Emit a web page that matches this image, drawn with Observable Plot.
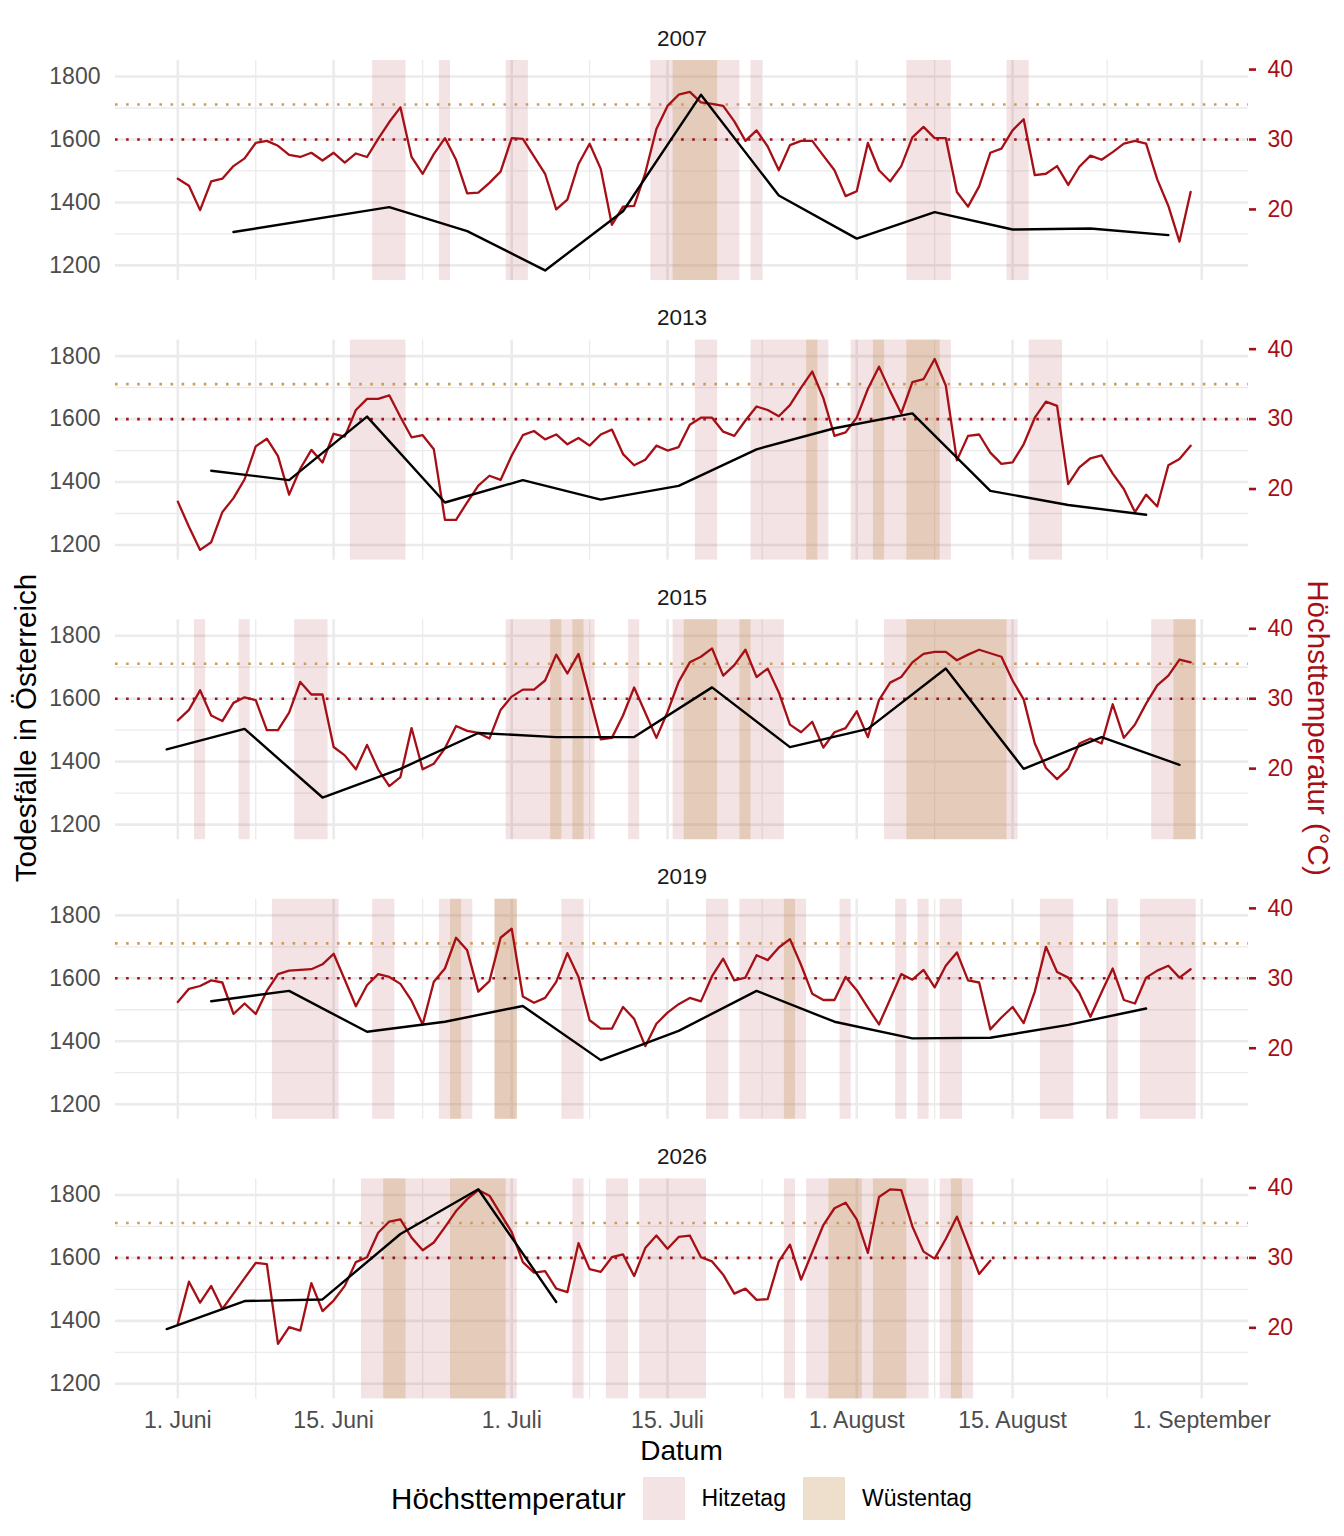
<!DOCTYPE html>
<html>
<head>
<meta charset="utf-8">
<script src="https://cdn.jsdelivr.net/npm/d3@7"></script>
<script src="https://cdn.jsdelivr.net/npm/@observablehq/plot@0.6"></script>
<style>
  body { margin: 0; background: #fff; font-family: "Liberation Sans", Arial, sans-serif; }
  #wrap { position: relative; width: 1344px; height: 1536px; background: #fff; }
  .abs { position: absolute; white-space: nowrap; line-height: 1; }
  #xtitle { left: 115px; width: 1133px; top: 1437px; text-align: center; font-size: 28px; color: #000; }
  #ylt { left: 26px; top: 728px; font-size: 29.5px; color: #000; transform: translate(-50%, -50%) rotate(-90deg); }
  #yrt { left: 1318px; top: 728px; font-size: 29.5px; color: #a50f15; transform: translate(-50%, -50%) rotate(90deg); }
  #legend { left: 115px; width: 1133px; top: 1477px; height: 43px; display: flex; justify-content: center; align-items: center; }
  #legend .ttl { font-size: 29.5px; margin-right: 17px; }
  #legend .sw { width: 42px; height: 43px; margin-right: 17px; }
  #legend .lab { font-size: 23px; margin-right: 17px; color: #000; }
  #legend .lab:last-child { margin-right: 0; }
</style>
</head>
<body>
<div id="wrap"></div>
<script>
// ---------- data ----------
const years = [2007, 2013, 2015, 2019, 2026];

// daily maximum temperature (°C), index 0 = 1 June
const temp2007 = [24.4, 23.4, 19.9, 24.0, 24.4, 26.2, 27.3, 29.5, 29.8, 29.1,
  27.8, 27.5, 28.1, 27.0, 28.1, 26.7, 28.0, 27.5, 30.1, 32.5,
  34.6, 27.5, 25.1, 27.9, 30.2, 27.1, 22.3, 22.4, 23.8, 25.4,
  30.2, 30.1, 27.6, 25.1, 20.0, 21.4, 26.5, 29.4, 25.8, 17.8,
  20.4, 20.5, 25.2, 31.5, 34.8, 36.4, 36.8, 35.3, 35.1, 34.8,
  32.6, 29.8, 31.3, 29.0, 25.6, 29.2, 29.8, 29.8, 27.7, 25.6,
  21.9, 22.6, 29.5, 25.6, 24.0, 26.2, 30.3, 31.8, 30.2, 30.2,
  22.5, 20.4, 23.3, 28.1, 28.7, 31.3, 32.9, 24.9, 25.1, 26.2,
  23.5, 26.1, 27.7, 27.1, 28.2, 29.4, 29.8, 29.4, 24.3, 20.5,
  15.4, 22.5];
const temp2013 = [18.2, 14.6, 11.3, 12.4, 16.7, 18.7, 21.4, 26.1, 27.2, 24.7,
  19.2, 22.9, 25.6, 23.8, 27.9, 27.5, 31.3, 32.9, 32.9, 33.4,
  30.3, 27.4, 27.7, 25.7, 15.6, 15.6, 18.1, 20.5, 21.9, 21.3,
  24.8, 27.7, 28.3, 27.1, 27.8, 26.4, 27.3, 26.2, 27.8, 28.5,
  25.0, 23.4, 24.2, 26.2, 25.5, 26.0, 29.2, 30.2, 30.2, 28.2,
  27.6, 29.8, 31.8, 31.3, 30.4, 32.0, 34.5, 36.8, 33.0, 27.6,
  28.1, 30.2, 34.3, 37.5, 34.0, 30.8, 35.3, 35.7, 38.6, 34.8,
  24.1, 27.6, 27.8, 25.2, 23.6, 23.8, 26.4, 30.2, 32.5, 31.9,
  20.7, 23.1, 24.4, 24.8, 22.2, 20.0, 16.7, 19.2, 17.5, 23.4,
  24.3, 26.2];
const temp2015 = [26.9, 28.4, 31.2, 27.6, 26.8, 29.4, 30.2, 29.8, 25.5, 25.5,
  28.0, 32.4, 30.6, 30.6, 23.1, 21.9, 19.9, 23.4, 19.9, 17.5,
  18.8, 25.8, 19.9, 20.7, 22.9, 26.1, 25.4, 25.1, 24.3, 28.4,
  30.3, 31.3, 31.3, 32.6, 36.3, 33.6, 36.4, 30.3, 24.2, 24.4,
  27.6, 31.6, 28.0, 24.4, 28.1, 32.4, 35.2, 36.0, 37.2, 33.3,
  34.8, 37.0, 33.1, 34.3, 30.9, 26.3, 25.2, 26.7, 23.0, 25.2,
  25.8, 28.2, 24.5, 29.8, 32.3, 33.1, 35.2, 36.4, 36.7, 36.7,
  35.5, 36.3, 37.0, 36.5, 36.0, 32.6, 29.9, 23.6, 20.1, 18.5,
  20.0, 23.6, 24.3, 23.6, 29.2, 24.4, 26.3, 29.3, 31.9, 33.3,
  35.6, 35.2];
const temp2019 = [26.6, 28.5, 28.9, 29.7, 29.4, 24.9, 26.4, 24.9, 28.2, 30.6,
  31.1, 31.2, 31.3, 32.0, 33.5, 29.8, 26.0, 29.0, 30.6, 30.2,
  29.2, 26.8, 23.4, 29.5, 31.4, 35.8, 34.0, 28.1, 29.6, 35.8,
  37.1, 27.4, 26.5, 27.2, 29.5, 33.6, 30.2, 24.0, 22.8, 22.8,
  25.9, 24.2, 20.3, 23.5, 25.1, 26.3, 27.2, 26.7, 30.3, 32.8,
  29.7, 30.1, 33.3, 32.6, 34.4, 35.6, 31.9, 27.8, 26.9, 26.9,
  30.2, 28.3, 25.8, 23.4, 27.0, 30.6, 29.8, 31.2, 28.7, 31.8,
  33.7, 29.7, 29.4, 22.7, 24.4, 25.9, 23.6, 28.1, 34.5, 30.9,
  30.1, 27.9, 24.5, 28.0, 31.4, 26.9, 26.4, 30.1, 31.1, 31.8,
  30.1, 31.3];
const temp2026 = [20.6, 26.6, 23.6, 26.0, 22.7, 24.9, 27.1, 29.3, 29.1, 17.7,
  20.1, 19.6, 26.4, 22.4, 23.9, 26.0, 29.4, 30.1, 33.6, 35.2,
  35.5, 32.9, 31.1, 32.2, 34.4, 36.7, 38.4, 39.7, 38.9, 36.3,
  33.7, 29.4, 27.9, 28.1, 25.6, 25.1, 32.1, 28.4, 28.0, 30.1,
  30.5, 27.4, 31.4, 33.2, 31.3, 33.0, 33.2, 30.1, 29.5, 27.6,
  24.9, 25.6, 24.0, 24.1, 29.5, 31.9, 26.9, 30.8, 34.7, 37.1,
  37.9, 35.5, 30.7, 38.7, 39.8, 39.7, 34.5, 30.9, 29.9, 32.7,
  35.9, 31.8, 27.7, 29.6];

// weekly deaths: day offset from 1 June and number of deaths
const weekDays2007 = [5, 19, 26, 33, 40, 47, 54, 61, 68, 75, 82, 89];
const deaths2007   = [1306, 1385, 1309, 1184, 1372, 1742, 1422, 1285, 1369, 1314, 1317, 1296];
const weekDays2013 = [3, 10, 17, 24, 31, 38, 45, 52, 59, 66, 73, 80, 87];
const deaths2013   = [1436, 1406, 1608, 1335, 1406, 1344, 1388, 1504, 1571, 1618, 1372, 1327, 1296];
const weekDays2015 = [-1, 6, 13, 20, 27, 34, 41, 48, 55, 62, 69, 76, 83, 90];
const deaths2015   = [1439, 1504, 1286, 1377, 1491, 1478, 1478, 1636, 1446, 1504, 1696, 1377, 1478, 1390];
const weekDays2019 = [3, 10, 17, 24, 31, 38, 45, 52, 59, 66, 73, 80, 87];
const deaths2019   = [1527, 1560, 1430, 1462, 1512, 1340, 1433, 1560, 1462, 1409, 1411, 1452, 1504];
const weekDays2026 = [-1, 6, 13, 20, 27, 34];
const deaths2026   = [1374, 1463, 1468, 1676, 1818, 1460];

// axes
const tickDays   = [0, 14, 30, 44, 61, 75, 92];
const tickLabels = ["1. Juni", "15. Juni", "1. Juli", "15. Juli", "1. August", "15. August", "1. September"];
const minorDays  = [7, 22, 37, 52.5, 68, 83.5];
const deathTicks = [1200, 1400, 1600, 1800];
const deathMinor = [1300, 1500, 1700];
const tempTicks  = [20, 30, 40];
const hitzeThreshold = 30;   // Hitzetag
const wuesteThreshold = 35;  // Wüstentag

// ---------- derived tables ----------
const tempsByYear = {2007: temp2007, 2013: temp2013, 2015: temp2015, 2019: temp2019, 2026: temp2026};
const weeksByYear = {
  2007: [weekDays2007, deaths2007], 2013: [weekDays2013, deaths2013], 2015: [weekDays2015, deaths2015],
  2019: [weekDays2019, deaths2019], 2026: [weekDays2026, deaths2026]
};
const perDegree = 200 / 9;                       // secondary axis transform
const t2d = t => 1600 + (t - 30) * perDegree;
const d2t = d => 30 + (d - 1600) / perDegree;

const tempRows = years.flatMap(y => tempsByYear[y].map((t, i) => ({year: y, day: i, temp: t})));
const weekRows = years.flatMap(y => weeksByYear[y][0].map((day, i) => ({year: y, day, deaths: weeksByYear[y][1][i]})));

function runs(year, temps, thr) {
  const out = []; let s = null;
  temps.forEach((t, i) => {
    if (t >= thr) { if (s === null) s = i; }
    else if (s !== null) { out.push({year, start: s, end: i - 1}); s = null; }
  });
  if (s !== null) out.push({year, start: s, end: temps.length - 1});
  return out;
}
const hitzeRuns = years.flatMap(y => runs(y, tempsByYear[y], hitzeThreshold));
const wuesteRuns = years.flatMap(y => runs(y, tempsByYear[y], wuesteThreshold));

// ---------- chart ----------
const FONT = "'Liberation Sans', Arial, sans-serif";
const chart = Plot.plot({
  width: 1344,
  height: 1440,
  marginLeft: 115,
  marginRight: 96,
  marginTop: 60,
  marginBottom: 41.6,
  style: {fontFamily: FONT, background: "white", overflow: "visible"},
  x: {domain: [-5.6, 96.2], axis: null},
  y: {domain: [1152, 1851], axis: null},
  fy: {domain: years, paddingInner: 0.2132, paddingOuter: 0, round: false, axis: null},
  marks: [
    Plot.ruleY(deathMinor, {stroke: "#ebebeb", strokeWidth: 1.3}),
    Plot.ruleX(minorDays, {stroke: "#ebebeb", strokeWidth: 1.3}),
    Plot.ruleY(deathTicks, {stroke: "#ebebeb", strokeWidth: 2.6}),
    Plot.ruleX(tickDays, {stroke: "#ebebeb", strokeWidth: 2.6}),
    Plot.barX(hitzeRuns, {x1: d => d.start - 0.5, x2: d => d.end + 0.5, fy: "year", fill: "#b43c46", fillOpacity: 0.14}),
    Plot.barX(wuesteRuns, {x1: d => d.start - 0.5, x2: d => d.end + 0.5, fy: "year", fill: "#c39655", fillOpacity: 0.3}),
    Plot.ruleY([t2d(wuesteThreshold)], {stroke: "#cc9d5a", strokeWidth: 2.6, strokeDasharray: "2.6,8.5"}),
    Plot.ruleY([t2d(hitzeThreshold)], {stroke: "#a50f15", strokeWidth: 2.6, strokeDasharray: "2.6,8.5"}),
    Plot.line(tempRows, {x: "day", y: d => t2d(d.temp), fy: "year", stroke: "#a50f15", strokeWidth: 2.3}),
    Plot.line(weekRows, {x: "day", y: "deaths", fy: "year", stroke: "#000", strokeWidth: 2.4}),
    Plot.axisY({anchor: "left", ticks: deathTicks, tickFormat: d => String(d), tickSize: 0, tickPadding: 15,
      fontSize: 23, color: "#4d4d4d", label: null}),
    Plot.axisY({anchor: "right", ticks: tempTicks.map(t2d), tickFormat: d => String(Math.round(d2t(d))),
      tickSize: 7, tickPadding: 12, fontSize: 23, color: "#a50f15", strokeWidth: 2.6, label: null}),
    Plot.axisX({anchor: "bottom", ticks: tickDays, tickFormat: d => tickLabels[tickDays.indexOf(d)],
      tickSize: 0, tickPadding: 13, fontSize: 23, color: "#4d4d4d", label: null}),
    Plot.text(years, {fy: d => d, text: d => String(d), frameAnchor: "top", lineAnchor: "bottom", dy: -15, fontSize: 22.5, fill: "#1a1a1a"})
  ]
});

const wrap = document.getElementById("wrap");
wrap.appendChild(chart);

function addDiv(id, text, cls) {
  const el = document.createElement("div");
  el.id = id; el.className = cls || "abs"; el.textContent = text;
  wrap.appendChild(el); return el;
}
addDiv("xtitle", "Datum");
addDiv("ylt", "Todesfälle in Österreich");
addDiv("yrt", "Höchsttemperatur (°C)");

const legend = document.createElement("div");
legend.id = "legend"; legend.className = "abs";
const ttl = document.createElement("span"); ttl.className = "ttl"; ttl.textContent = "Höchsttemperatur";
legend.appendChild(ttl);
[["Hitzetag", "rgba(180,60,70,0.14)"], ["Wüstentag", "rgba(195,150,85,0.3)"]].forEach(([lab, col]) => {
  const sw = document.createElement("span"); sw.className = "sw"; sw.style.background = col;
  const tx = document.createElement("span"); tx.className = "lab"; tx.textContent = lab;
  legend.appendChild(sw); legend.appendChild(tx);
});
wrap.appendChild(legend);
</script>
</body>
</html>
